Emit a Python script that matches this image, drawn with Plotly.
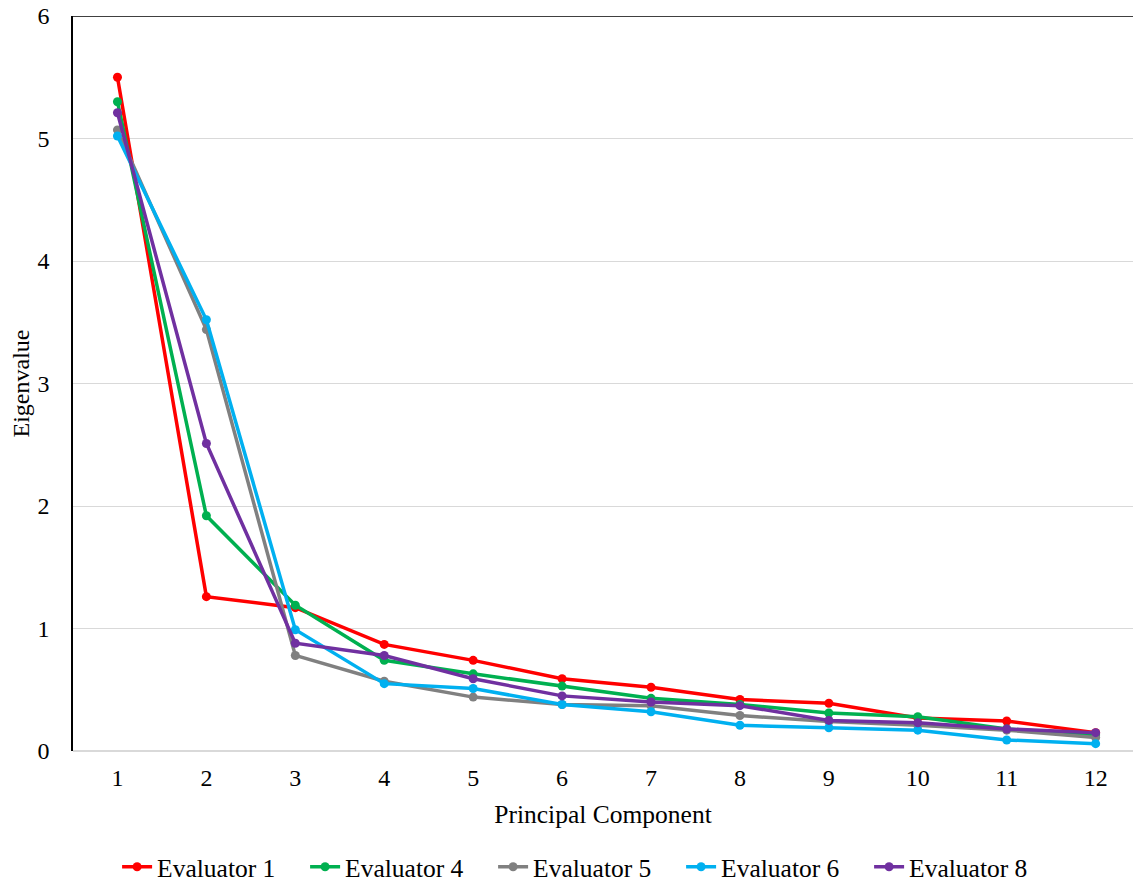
import plotly.graph_objects as go

components = [1, 2, 3, 4, 5, 6, 7, 8, 9, 10, 11, 12]
evaluator_1 = [5.50, 1.26, 1.17, 0.87, 0.74, 0.59, 0.52, 0.42, 0.39, 0.27, 0.245, 0.15]
evaluator_4 = [5.30, 1.92, 1.19, 0.74, 0.63, 0.53, 0.43, 0.38, 0.31, 0.28, 0.18, 0.13]
evaluator_5 = [5.07, 3.44, 0.78, 0.57, 0.44, 0.38, 0.37, 0.29, 0.24, 0.21, 0.17, 0.11]
evaluator_6 = [5.02, 3.52, 0.99, 0.55, 0.51, 0.38, 0.32, 0.21, 0.19, 0.17, 0.09, 0.06]
evaluator_8 = [5.21, 2.51, 0.88, 0.78, 0.59, 0.45, 0.40, 0.37, 0.25, 0.23, 0.18, 0.15]

series = [
    ("Evaluator 1", evaluator_1, "#FF0000"),
    ("Evaluator 4", evaluator_4, "#00B050"),
    ("Evaluator 5", evaluator_5, "#808080"),
    ("Evaluator 6", evaluator_6, "#00B0F0"),
    ("Evaluator 8", evaluator_8, "#7030A0"),
]

font_family = "Liberation Serif, Times New Roman, serif"
fs_tick = 24
fs_text = 25.5

fig = go.Figure()
for name, vals, color in series:
    fig.add_trace(go.Scatter(
        x=components, y=vals, name=name, mode="lines+markers",
        line=dict(color=color, width=3.5),
        marker=dict(color=color, size=9),
    ))

fig.update_layout(
    width=1133, height=884,
    margin=dict(l=73, r=0, t=16, b=133),
    paper_bgcolor="white", plot_bgcolor="white",
    font=dict(family=font_family, size=fs_tick, color="#000000"),
    showlegend=True,
    legend=dict(orientation="h", x=0.485, xanchor="center",
                yref="container", y=0.019, yanchor="middle",
                font=dict(size=fs_text, family=font_family), entrywidth=143, tracegroupgap=0),
    xaxis=dict(
        range=[0.5, 12.42], tickmode="array", tickvals=components,
        ticktext=[str(c) for c in components],
        showgrid=False, zeroline=False, showline=False, ticks="",
        ticklabelstandoff=10, automargin=False,
        tickfont=dict(size=fs_tick),
        title=dict(text="Principal Component", standoff=15, font=dict(size=fs_text)),
    ),
    yaxis=dict(
        range=[0, 6], tickmode="array", tickvals=[0, 1, 2, 3, 4, 5, 6],
        showgrid=True, gridcolor="#D9D9D9", gridwidth=1,
        zeroline=True, zerolinecolor="#D9D9D9", zerolinewidth=2,
        showline=True, linecolor="#000000", linewidth=1.5, ticks="",
        ticklabelstandoff=17, automargin=False, ticklabeloverflow="allow",
        tickfont=dict(size=fs_tick),
        title=dict(text="Eigenvalue", standoff=1, font=dict(size=24)),
    ),
)

fig.add_shape(type="line", xref="paper", yref="y", x0=0, x1=1, y0=6, y1=6,
              line=dict(color="#000000", width=1.5))

fig.write_html(
    "out.html",
    config={"displayModeBar": False},
    post_script="document.documentElement.style.margin='0';document.body.style.margin='0';",
)
